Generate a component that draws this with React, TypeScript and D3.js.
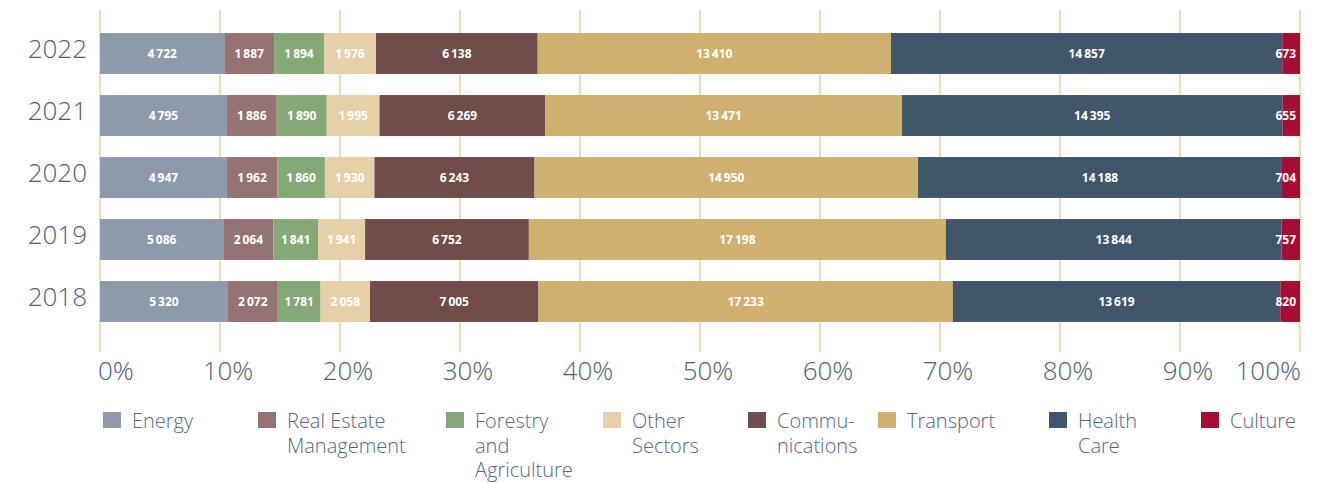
import React from 'react';
import * as d3 from 'd3';

// years top to bottom
const years = ['2022', '2021', '2020', '2019', '2018'];

const sectors = ['Energy', 'Real Estate Management', 'Forestry and Agriculture', 'Other Sectors', 'Communications', 'Transport', 'Health Care', 'Culture'];
const legendLines = [['Energy'], ['Real Estate', 'Management'], ['Forestry', 'and', 'Agriculture'], ['Other', 'Sectors'], ['Commu-', 'nications'], ['Transport'], ['Health', 'Care'], ['Culture']];
const colors = ['#8e9aab', '#967373', '#86a877', '#e6d0a8', '#704c4b', '#cfb06e', '#41566b', '#a50e32'];

const energy = [4722, 4795, 4947, 5086, 5320];
const realEstate = [1887, 1886, 1962, 2064, 2072];
const forestry = [1894, 1890, 1860, 1841, 1781];
const otherSectors = [1976, 1995, 1930, 1941, 2058];
const communications = [6138, 6269, 6243, 6752, 7005];
const transport = [13410, 13471, 14950, 17198, 17233];
const healthCare = [14857, 14395, 14188, 13844, 13619];
const culture = [673, 655, 704, 757, 820];

const series = [energy, realEstate, forestry, otherSectors, communications, transport, healthCare, culture];
const ticks = [0, 0.1, 0.2, 0.3, 0.4, 0.5, 0.6, 0.7, 0.8, 0.9, 1];

// legend item left edges
const legendX = [103, 258, 446, 603, 748, 878, 1049, 1201];

const fmt = (v: number) => d3.format(',')(v).replace(/,/g, '\u2009');

const App = () => {
  const width = 1334;
  const height = 484;
  const x = d3.scaleLinear().domain([0, 1]).range([100, 1300]);
  const y = d3.scaleBand().domain(years).range([22.5, 332.5]).paddingInner(0.34).paddingOuter(0.17);

  const table = years.map((yr, i) => {
    const row: any = { year: yr };
    sectors.forEach((s, j) => { row[s] = series[j][i]; });
    return row;
  });
  const stacked = d3.stack().keys(sectors).offset(d3.stackOffsetExpand)(table);

  const textColor = '#4d6077';
  const font = "'Open Sans', sans-serif";

  return (
    <svg width={width} height={height} style={{ position: 'absolute', left: 0, top: 0, background: '#fff' }}>
      {ticks.map((t) => (
        <line key={t} x1={x(t)} x2={x(t)} y1={10} y2={352} stroke="#e5c88c" strokeWidth={1.3} />
      ))}
      {stacked.map((layer, j) => (
        <g key={layer.key}>
          {layer.map((d: any, i) => {
            const x0 = x(d[0]);
            const x1 = x(d[1]);
            const by = y(years[i]) as number;
            const bh = y.bandwidth();
            const label = fmt(series[j][i]);
            const narrow = x1 - x0 < 26;
            return (
              <g key={i}>
                <rect x={x0} y={by} width={x1 - x0} height={bh} fill={colors[j]} />
                <text
                  x={narrow ? x1 - 4 : (x0 + x1) / 2}
                  y={by + bh / 2 + 4}
                  textAnchor={narrow ? 'end' : 'middle'}
                  fill="#fff"
                  fontFamily={font}
                  fontWeight={700}
                  fontSize={12}
                >{label}</text>
              </g>
            );
          })}
        </g>
      ))}
      {years.map((yr) => (
        <text key={yr} x={87} y={(y(yr) as number) + y.bandwidth() / 2 + 4} textAnchor="end"
          fill={textColor} fontFamily={font} fontWeight={300} fontSize={26}>{yr}</text>
      ))}
      {ticks.map((t, i) => {
        const anchor = i === 0 ? 'start' : i === ticks.length - 1 ? 'end' : 'middle';
        const dx = i === 0 ? -2 : i === ticks.length - 1 ? 1 : 8;
        return (
          <text key={t} x={x(t) + dx} y={380} textAnchor={anchor} fill={textColor}
            fontFamily={font} fontWeight={300} fontSize={26}>{d3.format('.0%')(t)}</text>
        );
      })}
      {sectors.map((s, j) => (
        <g key={s} transform={`translate(${legendX[j]},0)`}>
          <rect x={0} y={412} width={18} height={16} fill={colors[j]} />
          {legendLines[j].map((ln, k) => (
            <text key={k} x={29} y={428 + k * 24.5} fill="#56687d" fontFamily={font} fontWeight={300} fontSize={20}>{ln}</text>
          ))}
        </g>
      ))}
    </svg>
  );
};

export default App;
